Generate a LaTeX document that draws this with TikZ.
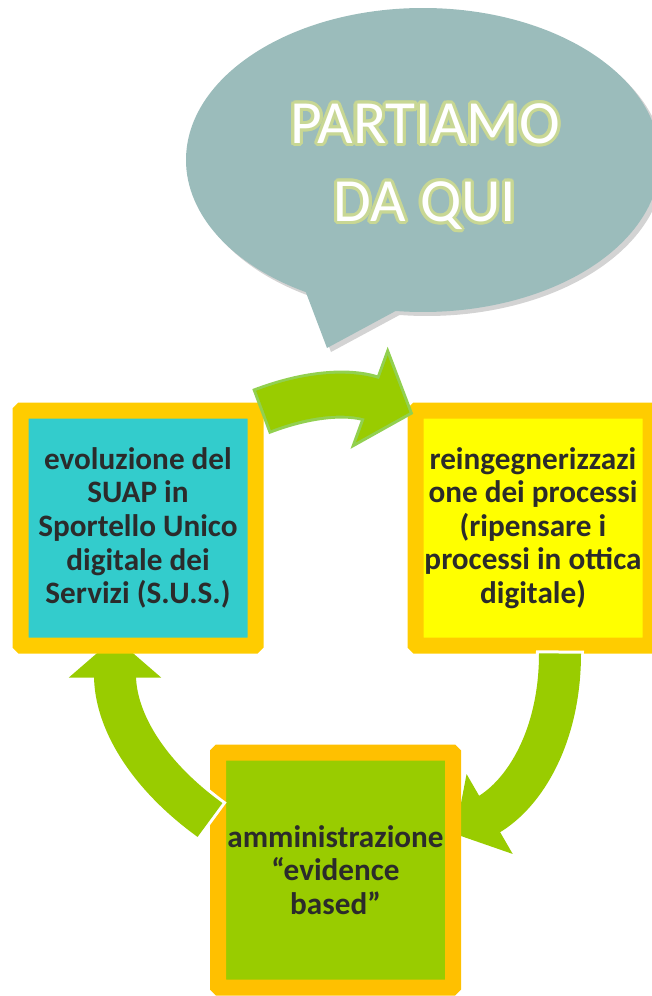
\documentclass[tikz,border=0pt]{standalone}
\usepackage{fontspec}
\setmainfont{Carlito}
\usepackage[copies]{contour}
\usetikzlibrary{arrows.meta,shapes.callouts,shadows,positioning}

\definecolor{bubblegray}{HTML}{9BBCBB}
\definecolor{glowgreen}{HTML}{C8D794}
\definecolor{framegold}{HTML}{FFCC00}
\definecolor{framedeep}{HTML}{FFC000}
\definecolor{suapteal}{HTML}{33CCCC}
\definecolor{ideayellow}{HTML}{FFFF00}
\definecolor{leafgreen}{HTML}{99CC00}
\definecolor{rimgreen}{HTML}{92D050}
\definecolor{inkgray}{HTML}{2B2B2B}

\contourlength{1.6pt}

\pgfdeclarelayer{backlayer}
\pgfdeclarelayer{frontlayer}
\pgfdeclarelayer{toplayer}
\pgfsetlayers{backlayer,main,frontlayer,toplayer}

\begin{document}
\begin{tikzpicture}[x=0.5pt, y=0.5pt,
  stage/.style={draw=framegold, line width=8pt, rounded corners=0.6pt,
                minimum width=117.5pt, minimum height=117.5pt, inner sep=0pt,
                align=center, text=inkgray,
                font=\bfseries\fontsize{15.6}{16.8}\selectfont},
  bubble/.style={ellipse callout, fill=bubblegray, inner sep=0pt,
                 minimum width=237pt, minimum height=152pt,
                 callout absolute pointer={(327,-348)}, callout pointer arc=23,
                 drop shadow={shadow xshift=2pt, shadow yshift=-2pt, opacity=0.35}},
  headline/.style={align=center, text=white, font=\fontsize{30.7}{39}\selectfont},
  flow/.style={leafgreen, line width=21pt, -{Triangle[length=20pt, width=45pt]}},
  halo/.style={preaction={draw=#1, line width=24pt, shorten <=-1.5pt, shorten >=-2pt,
               -{Triangle[length=23.5pt, width=53pt]}}}]
  % Define dimensions
  \useasboundingbox (0,0) rectangle (652,-996);

  % Define points
  \coordinate (B) at (423,-160); % bubble
  \coordinate (L) at (138,-528); % left box
  \coordinate (R) at (533,-528); % right box
  \coordinate (D) at (335.5,-870); % bottom box

  % Speech bubble
  \node[bubble] (callout) at (B) {};
  \node[headline] (title) at ([xshift=1pt,yshift=-4pt]callout.center)
    {\contour{glowgreen}{PARTIAMO}\\\contour{glowgreen}{DA QUI}};

  % Boxes
  \begin{pgfonlayer}{backlayer}
    \node[stage, fill=ideayellow] (reeng) at (R)
      {reingegnerizzazi\\one dei processi\\(ripensare i\\processi in ottica\\digitale)};
  \end{pgfonlayer}
  \node[stage, draw=framedeep, fill=leafgreen] (evid) at (D)
    {amministrazione\\“evidence\\based”};
  \begin{pgfonlayer}{frontlayer}
    \node[stage, fill=suapteal] (suap) at (L)
      {evoluzione del\\SUAP in\\Sportello Unico\\digitale dei\\Servizi (S.U.S.)};
  \end{pgfonlayer}

  % Cycle arrows
  \begin{pgfonlayer}{backlayer}
    \draw[flow, halo=white] ([xshift=13.5pt]reeng.south) to[out=270, in=30]
      ([xshift=-3pt,yshift=18pt]evid.east);
  \end{pgfonlayer}
  \draw[flow, halo=white] ([yshift=25pt]evid.west) to[out=144, in=270]
    ([xshift=-11.5pt,yshift=8pt]suap.south);
  \begin{pgfonlayer}{toplayer}
    \draw[flow, halo=rimgreen] ([yshift=-4pt]suap.north east) to[out=21, in=160]
      ([xshift=1pt,yshift=-5pt]reeng.north west);
  \end{pgfonlayer}
\end{tikzpicture}
\end{document}
